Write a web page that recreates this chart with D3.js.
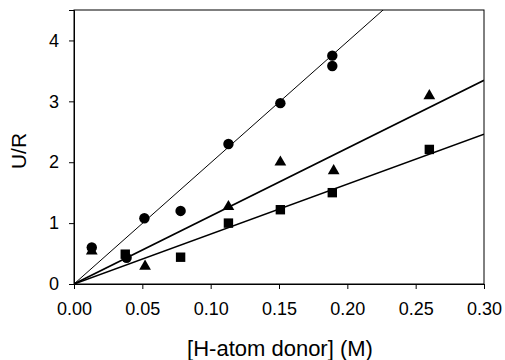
<!DOCTYPE html>
<html>
<head>
<meta charset="utf-8">
<script src="https://cdn.jsdelivr.net/npm/d3@7"></script>
<style>
  body { margin: 0; background: #fff; }
  text { font-family: "Liberation Sans", Arial, sans-serif; }
</style>
</head>
<body>
<div id="chart"></div>
<script>
// data
const circleX = [0.013, 0.0385, 0.0515, 0.078, 0.113, 0.151, 0.189, 0.189]
const circleY = [0.6, 0.43, 1.08, 1.2, 2.3, 2.97, 3.75, 3.58]
const triX = [0.013, 0.052, 0.113, 0.151, 0.19, 0.26]
const triY = [0.54, 0.29, 1.27, 2.0, 1.86, 3.09]
const squareX = [0.0375, 0.078, 0.113, 0.151, 0.189, 0.26]
const squareY = [0.49, 0.44, 1.0, 1.22, 1.5, 2.21]
// slopes of fitted lines through the origin
const slopes = { circle: 19.9, tri: 11.15, square: 8.2 }
const xTicks = [0, 0.05, 0.10, 0.15, 0.20, 0.25, 0.30]
const yTicks = [0, 1, 2, 3, 4]

let width = 505
let height = 360
const margin = { top: 10, right: 21, bottom: 76, left: 74 }
const w = width - margin.left - margin.right
const h = height - margin.top - margin.bottom

const svg = d3.select("#chart")
  .append("svg")
    .attr("width", width)
    .attr("height", height)
  .append("g")
    .attr("transform", "translate(" + margin.left + "," + margin.top + ")");

const x = d3.scaleLinear().domain([0, 0.30]).range([0, w])
const y = d3.scaleLinear().domain([0, 4.5]).range([h, 0])

// frame
svg.append("rect")
  .attr("width", w).attr("height", h)
  .attr("fill", "none").attr("stroke", "#000").attr("stroke-width", 1)

// axes
svg.append("g")
  .attr("transform", "translate(0," + h + ")")
  .call(d3.axisBottom(x).tickValues(xTicks).tickFormat(d3.format(".2f")).tickSizeOuter(0).tickSize(5).tickPadding(13))
svg.append("g")
  .call(d3.axisLeft(y).tickValues(yTicks).tickFormat(d3.format("d")).tickSizeOuter(0).tickSize(5).tickPadding(10))
svg.selectAll(".tick text").attr("font-size", 18).attr("fill", "#000")
  .style("font-family", "'Liberation Sans', Arial, sans-serif")
svg.selectAll(".domain").attr("stroke", "#000")

// titles
svg.append("text")
  .attr("x", w / 2 + 1).attr("y", h + 72)
  .attr("text-anchor", "middle").attr("font-size", 22)
  .text("[H-atom donor] (M)")
svg.append("text")
  .attr("transform", "translate(" + (-48) + "," + (h / 2 + 4) + ") rotate(-90)")
  .attr("text-anchor", "middle").attr("font-size", 21)
  .text("U/R")

// fitted lines, clipped to the plot area
svg.append("clipPath").attr("id", "clip")
  .append("rect").attr("width", w).attr("height", h)
const fits = [
  { k: slopes.circle, sw: 1 },
  { k: slopes.tri, sw: 1.6 },
  { k: slopes.square, sw: 1.6 }
]
const line = d3.line().x(d => x(d[0])).y(d => y(d[1]))
fits.forEach(f => {
  svg.append("path")
    .attr("clip-path", "url(#clip)")
    .attr("d", line([[0, 0], [0.30, 0.30 * f.k]]))
    .attr("fill", "none").attr("stroke", "#000").attr("stroke-width", f.sw)
})

// markers
svg.selectAll(".circ").data(circleX).enter().append("circle")
  .attr("cx", d => x(d)).attr("cy", (d, i) => y(circleY[i]))
  .attr("r", 5.2).attr("fill", "#000")
const tri = d3.symbol().type(d3.symbolTriangle).size(60)
svg.selectAll(".tri").data(triX).enter().append("path")
  .attr("d", tri)
  .attr("transform", (d, i) => "translate(" + x(d) + "," + y(triY[i]) + ")")
  .attr("fill", "#000")
svg.selectAll(".sq").data(squareX).enter().append("rect")
  .attr("x", d => x(d) - 4.7).attr("y", (d, i) => y(squareY[i]) - 4.7)
  .attr("width", 9.4).attr("height", 9.4).attr("fill", "#000")
</script>
</body>
</html>
